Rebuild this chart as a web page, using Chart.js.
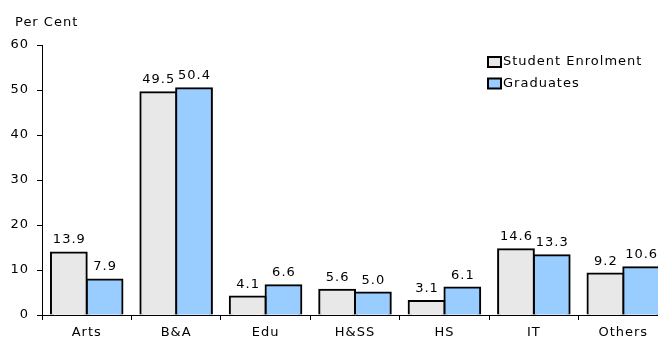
<!DOCTYPE html>
<html>
<head>
<meta charset="utf-8">
<script src="https://cdn.jsdelivr.net/npm/chart.js@4/dist/chart.umd.min.js"></script>
<style>
  html, body { margin: 0; padding: 0; overflow: hidden; background: #fff; }
  #wrap { width: 658px; height: 338px; overflow: hidden; position: relative; }
  #c { position: absolute; left: 0; top: 0; width: 668px; height: 338px; }
</style>
</head>
<body>
<div id="wrap"><canvas id="c" width="668" height="338"></canvas></div>
<script>
// Fields of study
const categories = ['Arts', 'B&A', 'Edu', 'H&SS', 'HS', 'IT', 'Others'];
// Share of students by field, per cent
const enrolment = [13.9, 49.5, 4.1, 5.6, 3.1, 14.6, 9.2];
const graduates = [7.9, 50.4, 6.6, 5.0, 6.1, 13.3, 10.6];
const yTicks = [0, 10, 20, 30, 40, 50, 60];
const seriesNames = ['Student Enrolment', 'Graduates'];

const FONT = 'DejaVu Sans, Verdana, sans-serif';

// Slightly wider lettering for all canvas text
const letterSpacing = {
  id: 'letterSpacing',
  beforeInit(chart) { chart.ctx.letterSpacing = '1px'; },
  beforeDraw(chart) { chart.ctx.letterSpacing = '1px'; }
};

// Value labels above each bar
const valueLabels = {
  id: 'valueLabels',
  afterDatasetsDraw(chart) {
    const ctx = chart.ctx;
    ctx.save();
    ctx.font = '13px ' + FONT;
    ctx.fillStyle = '#000';
    ctx.textAlign = 'center';
    ctx.textBaseline = 'alphabetic';
    chart.data.datasets.forEach((ds, i) => {
      chart.getDatasetMeta(i).data.forEach((bar, j) => {
        ctx.fillText(ds.data[j].toFixed(1), bar.x + 0.5, bar.y - 9);
      });
    });
    ctx.restore();
  }
};

// Axis caption and boxed legend
const annotations = {
  id: 'annotations',
  afterDraw(chart) {
    const ctx = chart.ctx;
    ctx.save();
    ctx.font = '13px ' + FONT;
    ctx.fillStyle = '#000';
    ctx.textBaseline = 'middle';
    ctx.textAlign = 'left';
    ctx.fillText('Per Cent', 15, 23);
    chart.data.datasets.forEach((ds, i) => {
      const y = 62 + i * 21.5;
      ctx.fillStyle = ds.backgroundColor;
      ctx.fillRect(488, y - 5, 13, 10);
      ctx.strokeStyle = '#000';
      ctx.lineWidth = 2;
      ctx.strokeRect(488, y - 5, 13, 10);
      ctx.fillStyle = '#000';
      ctx.fillText(ds.label, 503, y);
    });
    ctx.restore();
  }
};

new Chart(document.getElementById('c'), {
  type: 'bar',
  data: {
    labels: categories,
    datasets: [
      { label: seriesNames[0], data: enrolment, backgroundColor: '#e8e8e8', borderColor: '#000', borderWidth: 2, inflateAmount: 1 },
      { label: seriesNames[1], data: graduates, backgroundColor: '#99ccff', borderColor: '#000', borderWidth: 2, inflateAmount: 1 }
    ]
  },
  options: {
    responsive: false,
    animation: false,
    devicePixelRatio: 1,
    layout: { padding: { top: 45, right: 0, bottom: 0, left: 0 } },
    datasets: { bar: { categoryPercentage: 0.8, barPercentage: 1.0 } },
    plugins: { legend: { display: false }, tooltip: { enabled: false } },
    scales: {
      x: {
        grid: { display: true, drawOnChartArea: false, offset: true, tickLength: 5, color: '#000' },
        border: { color: '#000', width: 1 },
        ticks: { color: '#000', font: { family: FONT, size: 13 }, padding: 5, maxRotation: 0 },
        afterFit(s) { s.height = 23; }
      },
      y: {
        min: 0, max: 60,
        afterBuildTicks(s) { s.ticks = yTicks.map(v => ({ value: v })); },
        grid: { display: true, drawOnChartArea: false, tickLength: 5, color: '#000' },
        border: { color: '#000', width: 1 },
        ticks: { color: '#000', font: { family: FONT, size: 13 }, padding: 8 },
        afterFit(s) { s.width = 42; }
      }
    }
  },
  plugins: [letterSpacing, valueLabels, annotations]
});
</script>
</body>
</html>
